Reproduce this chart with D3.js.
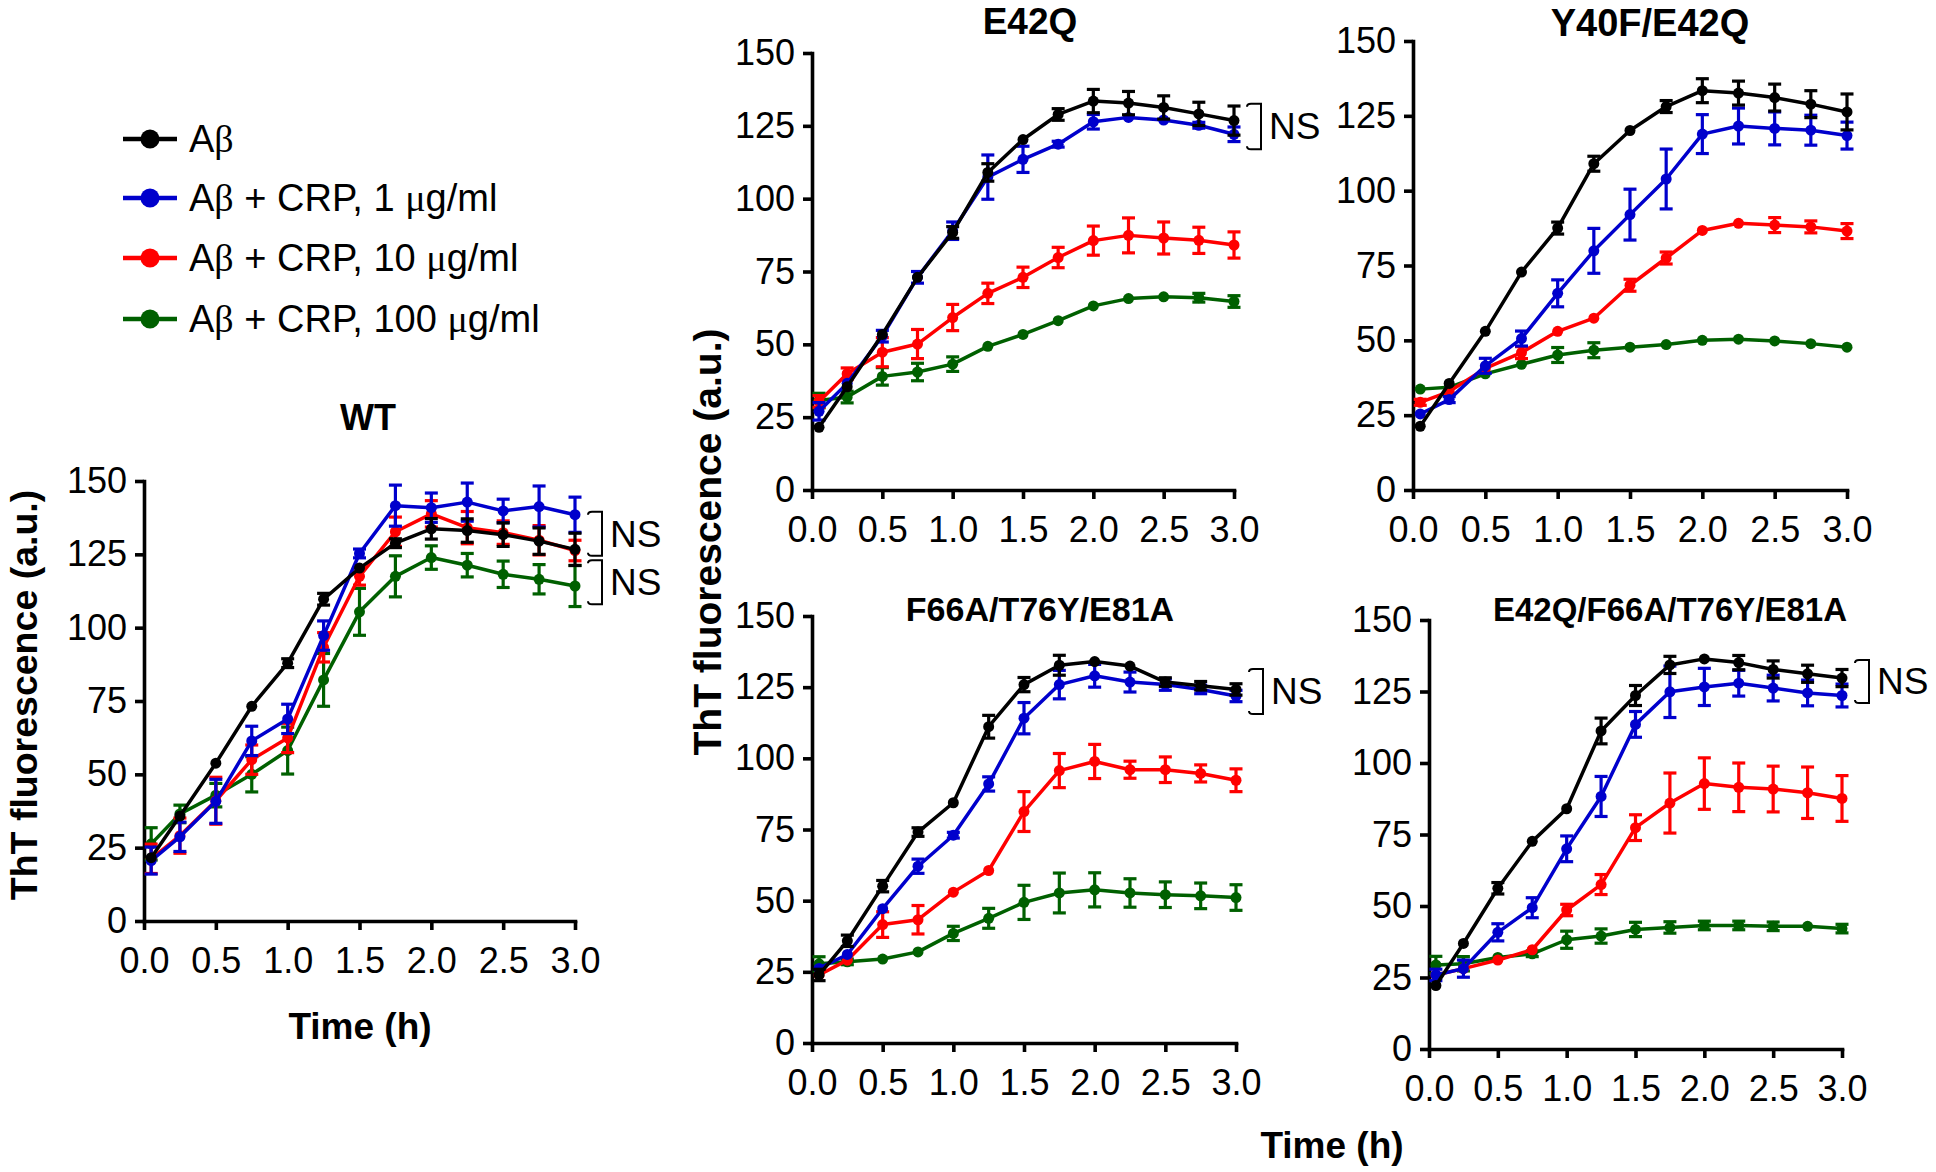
<!DOCTYPE html>
<html><head><meta charset="utf-8">
<script src="https://cdn.jsdelivr.net/npm/d3@7"></script>
<style>body{margin:0;background:#fff}svg{display:block}</style>
</head><body>
<svg id="chart" width="1936" height="1172"></svg>
<script>
// ---------- data ----------
const times = [0.05,0.25,0.5,0.75,1.0,1.25,1.5,1.75,2.0,2.25,2.5,2.75,3.0];
const seriesLabels = ["Aβ","Aβ + CRP, 1 μg/ml","Aβ + CRP, 10 μg/ml","Aβ + CRP, 100 μg/ml"];
const seriesColors = ["#000000","#0000cc","#ff0000","#006000"];
const xTicks = [0,0.5,1,1.5,2,2.5,3];
const yTicks = [0,25,50,75,100,125,150];
const panelTitles = ["WT","E42Q","Y40F/E42Q","F66A/T76Y/E81A","E42Q/F66A/T76Y/E81A"];

// order in each: [Aβ, +1, +10, +100]
const wtMean = [
 [21.6,35.8,53.8,73.2,87.9,109.7,120.3,128.8,133.7,133.1,131.7,129.5,126.7],
 [20.6,28.7,40.8,61.4,68.9,97.3,125.3,141.6,140.9,142.8,139.8,141.3,138.5],
 [21.2,29.1,41.0,55.0,62.4,93.3,117.5,132.7,138.8,134.1,132.4,129.8,126.3],
 [26.3,36.5,42.9,50.0,58.1,82.2,105.4,117.5,123.9,121.3,118.2,116.5,114.2]];
const wtErr = [
 [0,0,0,0,1.5,2,0,1.5,3.5,4,4,4.5,5.5],
 [4.6,5,7.5,5,5,5,1.5,7,5,6.5,4,7,6],
 [5,6,8,5,5,5,3,5,4.5,5.5,4,5,3.5],
 [5.5,3,4,6,8,9,8,7,4,4,4.5,5,7]];

const e42qMean = [
 [21.5,35.4,53.4,73.0,88.4,109.0,120.3,128.9,133.5,132.8,131.3,129.1,126.8],
 [27.0,36.6,52.8,73.0,89.0,107.4,113.5,118.7,126.4,127.9,127.0,125.2,122.1],
 [30.4,39.9,47.3,50.1,59.2,67.5,73.0,79.8,85.6,87.4,86.5,85.7,84.1],
 [30.7,31.9,39.0,40.5,43.2,49.3,53.4,58.1,63.2,65.7,66.3,66.0,64.7]];
const e42qErr = [
 [0,0,0,0,2,3,0,2,4,4,4,4,5],
 [3,0,2,2,3,7.6,4.5,1,2.5,0,0,1,2.5],
 [2,2,5,5,4.5,3.5,3.5,3.5,5,6,5.5,4.5,4.5],
 [2.5,2,3,3,2.5,0,0,0,0,0,0,1.5,2]];

const y40fMean = [
 [21.3,35.6,53.0,72.8,87.5,109.0,120.1,128.1,133.4,132.6,131.1,128.9,126.3],
 [25.4,30.2,41.5,50.6,65.7,79.9,92.0,103.9,118.9,121.6,120.8,120.2,118.4],
 [29.3,32.9,40.6,45.9,53.0,57.4,68.4,77.5,86.7,89.1,88.5,87.9,86.5],
 [33.7,34.3,38.8,42.0,45.1,46.7,47.7,48.6,50.0,50.4,49.8,48.9,47.7]];
const y40fErr = [
 [0,0,0,0,2,2.5,0,2,4,4,4.5,4.5,6],
 [0,1,2.5,2.5,4.5,7.5,8.5,10,6.5,6,5.5,5,4.5],
 [1,0,0,2,0,0,2,2,0,0,2.5,2,2.5],
 [0,0,0,0,2.5,2.5,0,0,0,0,0,0,0]];

const f66aMean = [
 [23.9,35.9,55.1,74.1,84.4,111.1,125.9,132.7,134.0,132.4,126.8,125.5,124.2],
 [26.2,31.1,47.2,62.1,73.0,91.0,114.1,125.9,129.0,126.8,125.9,124.2,121.9],
 [23.9,29.1,41.6,43.3,53.0,60.6,81.3,95.7,98.9,96.0,96.0,94.7,92.3],
 [27.8,28.5,29.5,32.0,38.5,43.8,49.4,52.7,53.8,52.7,52.1,51.7,51.1]];
const f66aErr = [
 [2,2,2,1.5,0,4,2.5,3.5,0,0,1.5,1.5,2],
 [0,0,0,2.5,1,2.5,5.5,5,4,3.5,2,1.5,2],
 [0,0,4.5,5,0,0,7,6,6,3,4.5,3,4],
 [2.5,1,0,0,2.5,3.5,6,7,6,5,4.5,4.5,4.5]];

const quadMean = [
 [22.2,36.9,56.2,72.6,84.0,111.2,123.6,134.3,136.4,135.1,132.7,131.2,129.7],
 [25.9,28.1,40.8,49.4,70.0,88.3,113.5,124.9,126.6,127.9,126.2,124.5,123.6],
 [25.9,28.1,31.1,34.7,48.6,57.5,77.4,86.0,92.8,91.5,90.9,89.6,87.6],
 [29.4,29.8,32.0,33.3,38.2,39.5,41.8,42.5,43.2,43.2,42.9,42.9,42.1]];
const quadErr = [
 [0,0,2,0,0,4.5,3.5,3,0,2.5,3,3,3],
 [2,3,3,3.5,4.5,7,4.5,9,6.5,4.5,4.5,4.5,4],
 [0,0,0,0,2,3.5,4.5,10.5,9,8.5,8,9,8],
 [3,2.5,0,1,3,2.5,2.5,2,1.5,1.5,1.5,0,1.5]];

// "NS" bracket spans (y values)
const wtNS = [[139.5,124.5],[123,108]];
const e42qNS = [[132.6,117]];
const y40fNS = [];
const f66aNS = [[131.4,115.6]];
const quadNS = [[136,121]];

// ---------- drawing ----------
const FONT = "'Liberation Sans', Arial, Helvetica, sans-serif";
const svg = d3.select("#chart");

const panels = [
  {title: panelTitles[0], mean: wtMean,  err: wtErr,  ns: wtNS,  x0:144, x3:575,  y0:921,  y150:481, tx:368,  ty:430, tfs:36},
  {title: panelTitles[1], mean: e42qMean, err: e42qErr, ns: e42qNS, x0:812, x3:1234, y0:490, y150:53,  tx:1030, ty:34, tfs:37},
  {title: panelTitles[2], mean: y40fMean, err: y40fErr, ns: y40fNS, x0:1413, x3:1847, y0:490, y150:41, tx:1650, ty:36, tfs:38},
  {title: panelTitles[3], mean: f66aMean, err: f66aErr, ns: f66aNS, x0:812, x3:1236, y0:1043, y150:616, tx:1040, ty:621, tfs:34},
  {title: panelTitles[4], mean: quadMean, err: quadErr, ns: quadNS, x0:1429, x3:1842, y0:1049, y150:620, tx:1670, ty:621, tfs:33}
];

function drawPanel(p) {
  const x = d3.scaleLinear().domain([0,3]).range([p.x0, p.x3]);
  const y = d3.scaleLinear().domain([0,150]).range([p.y0, p.y150]);
  const g = svg.append("g");

  const xa = g.append("g").attr("transform", `translate(0,${p.y0})`)
    .call(d3.axisBottom(x).tickValues(xTicks).tickFormat(d3.format(".1f"))
      .tickSize(9).tickSizeOuter(0).tickPadding(17));
  const ya = g.append("g").attr("transform", `translate(${p.x0},0)`)
    .call(d3.axisLeft(y).tickValues(yTicks).tickFormat(d3.format("d"))
      .tickSize(9).tickSizeOuter(0).tickPadding(8));
  [xa, ya].forEach(a => {
    a.select(".domain").attr("stroke", "#000").attr("stroke-width", 3.6).attr("stroke-linecap","square");
    a.selectAll(".tick line").attr("stroke", "#000").attr("stroke-width", 3.6);
    a.selectAll(".tick text").attr("fill", "#000").style("font-family", FONT).style("font-size", "36px");
  });

  const line = d3.line().x((d,i) => x(times[i])).y(d => y(d));
  const order = [3,2,1,0];
  order.forEach(s => {
    const col = seriesColors[s];
    const sg = g.append("g");
    sg.append("path").datum(p.mean[s]).attr("d", line)
      .attr("fill","none").attr("stroke", col).attr("stroke-width", 3.5).attr("stroke-linejoin","round");
    const eb = sg.selectAll(".eb").data(p.mean[s].map((m,i) => ({m, e:p.err[s][i], t:times[i]})).filter(d => d.e > 0))
      .enter().append("g");
    eb.append("line").attr("x1", d => x(d.t)).attr("x2", d => x(d.t))
      .attr("y1", d => y(d.m - d.e)).attr("y2", d => y(d.m + d.e))
      .attr("stroke", col).attr("stroke-width", 3.2);
    [-1,1].forEach(sgn => {
      eb.append("line").attr("x1", d => x(d.t) - 6.5).attr("x2", d => x(d.t) + 6.5)
        .attr("y1", d => y(d.m + sgn*d.e)).attr("y2", d => y(d.m + sgn*d.e))
        .attr("stroke", col).attr("stroke-width", 3.2);
    });
    sg.selectAll("circle").data(p.mean[s]).enter().append("circle")
      .attr("cx", (d,i) => x(times[i])).attr("cy", d => y(d)).attr("r", 5.5).attr("fill", col);
  });

  // title
  g.append("text").attr("x", p.tx).attr("y", p.ty).attr("text-anchor","middle")
    .style("font-family", FONT).style("font-weight","bold").style("font-size", p.tfs + "px").text(p.title);

  // NS brackets
  p.ns.forEach(([a,b]) => {
    const xl = p.x3 + 13, xv = p.x3 + 27, yt = y(a), yb = y(b);
    g.append("path")
      .attr("d", `M${xl},${yt+3} Q${xl},${yt} ${xl+4},${yt} L${xv},${yt} L${xv},${yb} L${xl+4},${yb} Q${xl},${yb} ${xl},${yb-3}`)
      .attr("fill","none").attr("stroke","#000").attr("stroke-width",2);
    g.append("text").attr("x", xv + 8).attr("y", (yt+yb)/2 + 13)
      .style("font-family", FONT).style("font-size","37px").text("NS");
  });
}
panels.forEach(drawPanel);

// axis titles
function axisTitle(txt, x, y, rot, fs) {
  svg.append("text").attr("transform", `translate(${x},${y}) rotate(${rot})`)
    .attr("text-anchor","middle").style("font-family", FONT).style("font-weight","bold")
    .style("font-size", fs + "px").text(txt);
}
axisTitle("ThT fluorescence (a.u.)", 37, 695, -90, 37.5);
axisTitle("ThT fluorescence (a.u.)", 721, 542, -90, 39);
axisTitle("Time (h)", 360, 1039, 0, 37);
axisTitle("Time (h)", 1332, 1158, 0, 37);

// legend
const legRows = [139, 198, 258, 319];
seriesLabels.forEach((lab, i) => {
  const lg = svg.append("g");
  lg.append("line").attr("x1",123).attr("x2",177).attr("y1",legRows[i]).attr("y2",legRows[i])
    .attr("stroke", seriesColors[i]).attr("stroke-width",4.5);
  lg.append("circle").attr("cx",150).attr("cy",legRows[i]).attr("r",9.5).attr("fill",seriesColors[i]);
  const t = lg.append("text").attr("x",189).attr("y",legRows[i]+13)
    .style("font-family", FONT).style("font-size","38px");
  // Greek letters in a serif face, as in the original
  lab.split(/([βμ])/).forEach(part => {
    if (!part) return;
    const ts = t.append("tspan").text(part);
    if (part === "β" || part === "μ") ts.style("font-family", "'Liberation Serif', 'Times New Roman', serif");
  });
});
</script>
</body></html>
